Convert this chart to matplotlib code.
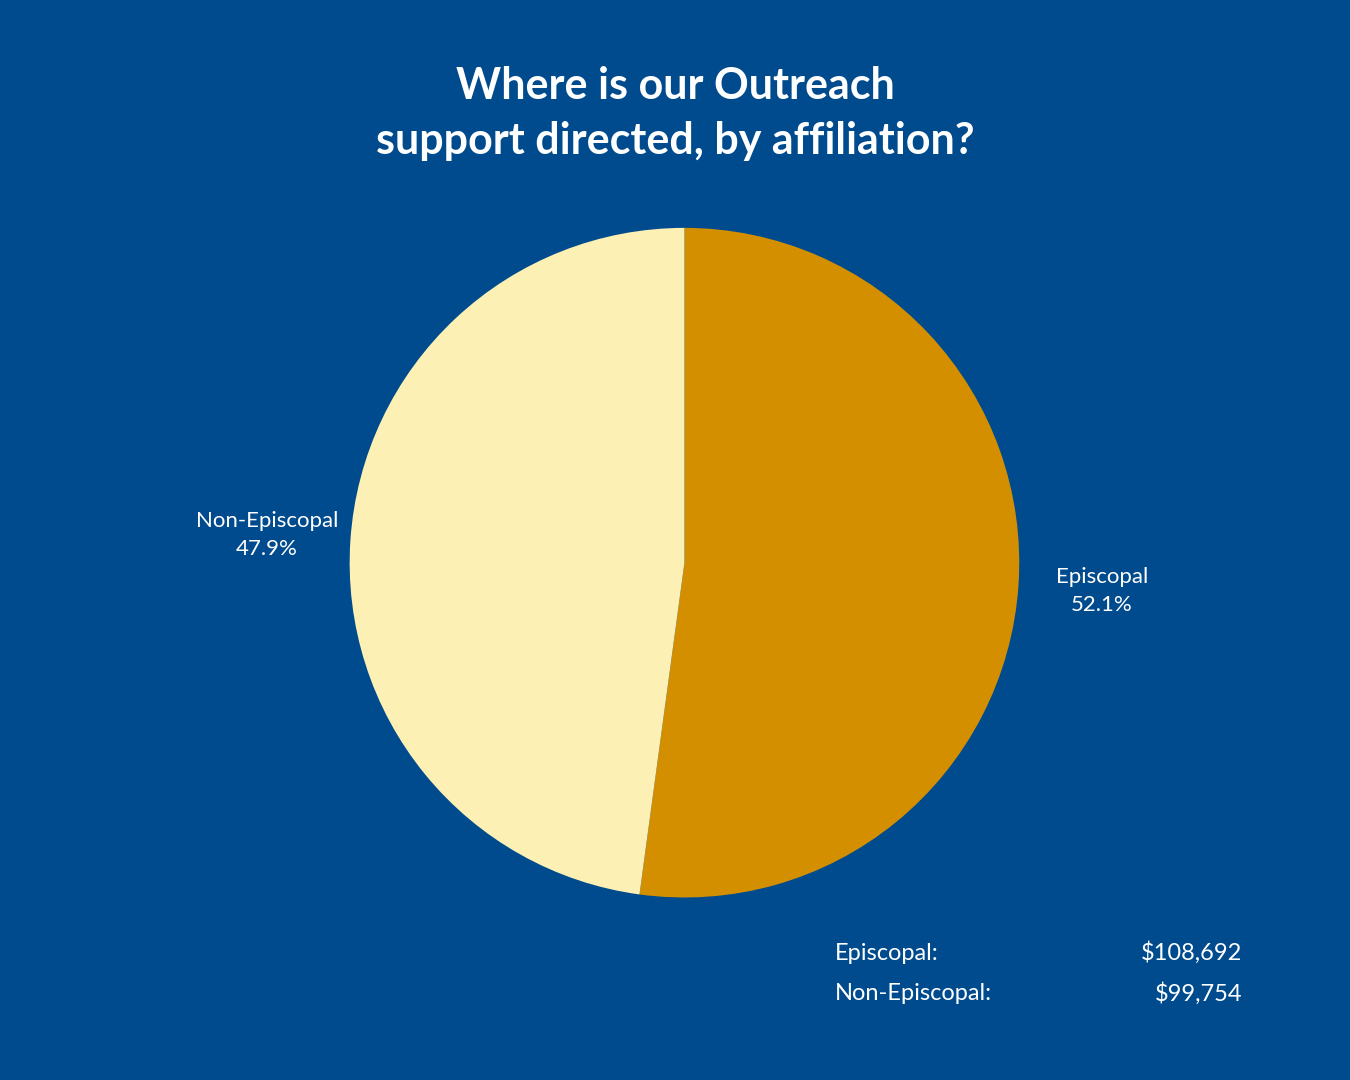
import matplotlib
matplotlib.use("Agg")
import matplotlib.pyplot as plt

categories = ["Episcopal", "Non-Episcopal"]
amounts = [108692, 99754]
amount_labels = ["$108,692", "$99,754"]
colors = ["#D48F00", "#FDF0B5"]
bg = "#004B8D"

fig = plt.figure(figsize=(13.5, 10.8), dpi=100, facecolor=bg)
ax = fig.add_axes([0.259, 0.169, 0.496, 0.620])
ax.set_facecolor(bg)
total = sum(amounts)
labels = [f"{c}\n{a/total*100:.1f}%" for c, a in zip(categories, amounts)]
wedges, texts = ax.pie(amounts, colors=colors, startangle=90, counterclock=False,
                       labels=labels, labeldistance=1.25,
                       textprops=dict(color="white", fontsize=16, family="Lato"))
for t in texts:
    t.set_horizontalalignment("center")
    t.set_linespacing(1.5)
ax.set_xlim(-1, 1)
ax.set_ylim(-1, 1)
ax.set_aspect("equal")

fig.text(0.5, 0.895, "Where is our Outreach\nsupport directed, by affiliation?", ha="center", va="center",
         color="white", fontsize=31, fontweight="bold", family="Lato", linespacing=1.45)

for i, (c, l) in enumerate(zip(categories, amount_labels)):
    y = 1 - (953 + i * 41) / 1080
    fig.text(835 / 1350, y, c + ":", ha="left", va="center", color="white", fontsize=17, family="Lato")
    fig.text(1242 / 1350, y, l, ha="right", va="center", color="white", fontsize=17, family="Lato")

fig.savefig("out.png", facecolor=bg)
